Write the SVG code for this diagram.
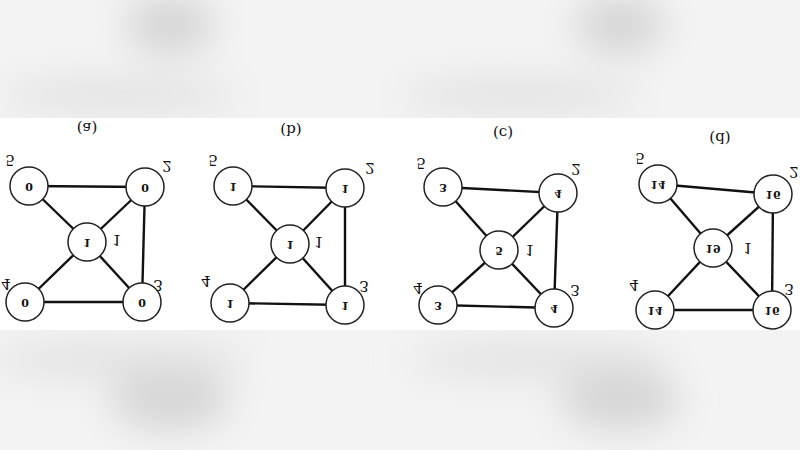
<svg xmlns="http://www.w3.org/2000/svg" width="800" height="450" viewBox="0 0 800 450">
<defs>
<filter id="bl" x="-50%" y="-50%" width="200%" height="200%"><feGaussianBlur stdDeviation="18"/></filter>
<style>
.n circle{fill:#fff;stroke:#222;stroke-width:1.5}
.e line{stroke:#111;stroke-width:2.4}
text{font-family:"DejaVu Serif","Liberation Serif",serif;fill:#111;text-anchor:middle;dominant-baseline:central}
.v{font-size:11px;font-weight:bold}
.l{font-size:15px}
.t{font-size:15px}
</style>
</defs>
<rect width="800" height="450" fill="#f3f3f3"/>
<g filter="url(#bl)" fill="#d6d6d6">
<ellipse cx="170" cy="25" rx="45" ry="30"/>
<ellipse cx="620" cy="25" rx="45" ry="30"/>
<ellipse cx="120" cy="95" rx="120" ry="15" fill="#e0e0e0"/>
<ellipse cx="520" cy="95" rx="120" ry="15" fill="#e0e0e0"/>
<ellipse cx="170" cy="400" rx="60" ry="30"/>
<ellipse cx="620" cy="400" rx="60" ry="30"/>
<ellipse cx="120" cy="360" rx="130" ry="18" fill="#e2e2e2"/>
<ellipse cx="540" cy="360" rx="130" ry="18" fill="#e2e2e2"/>
</g>
<rect x="0" y="118" width="800" height="212" fill="#fff"/>
<g id="connectors" class="e">
<line x1="29" y1="186" x2="145" y2="187"/><line x1="29" y1="186" x2="87" y2="242"/><line x1="145" y1="187" x2="87" y2="242"/><line x1="145" y1="187" x2="142" y2="302"/><line x1="87" y1="242" x2="25" y2="302"/><line x1="87" y1="242" x2="142" y2="302"/><line x1="25" y1="302" x2="142" y2="302"/>
<line x1="233" y1="186" x2="345" y2="188"/><line x1="233" y1="186" x2="290" y2="244"/><line x1="345" y1="188" x2="290" y2="244"/><line x1="345" y1="188" x2="345" y2="305"/><line x1="290" y1="244" x2="230" y2="303"/><line x1="290" y1="244" x2="345" y2="305"/><line x1="230" y1="303" x2="345" y2="305"/>
<line x1="443" y1="187" x2="558" y2="193"/><line x1="443" y1="187" x2="499" y2="250"/><line x1="558" y1="193" x2="499" y2="250"/><line x1="558" y1="193" x2="554" y2="308"/><line x1="499" y1="250" x2="438" y2="305"/><line x1="499" y1="250" x2="554" y2="308"/><line x1="438" y1="305" x2="554" y2="308"/>
<line x1="658" y1="184" x2="773" y2="194"/><line x1="658" y1="184" x2="713" y2="248"/><line x1="773" y1="194" x2="713" y2="248"/><line x1="773" y1="194" x2="772" y2="310"/><line x1="713" y1="248" x2="655" y2="310"/><line x1="713" y1="248" x2="772" y2="310"/><line x1="655" y1="310" x2="772" y2="310"/>
</g>
<g id="labels">
<text class="t" transform="translate(87,128) scale(1,-1)">(a)</text>
<text class="t" transform="translate(291,130) scale(1,-1)">(b)</text>
<text class="t" transform="translate(503,133) scale(1,-1)">(c)</text>
<text class="t" transform="translate(720,138) scale(1,-1)">(d)</text>
<text class="l" transform="translate(10,160) scale(1,-1)">5</text><text class="l" transform="translate(167,166) scale(1,-1)">2</text><text class="l" transform="translate(117,240) scale(1,-1)">1</text><text class="l" transform="translate(6,284) scale(1,-1)">4</text><text class="l" transform="translate(158,285) scale(1,-1)">3</text>
<text class="l" transform="translate(213,160) scale(1,-1)">5</text><text class="l" transform="translate(370,168) scale(1,-1)">2</text><text class="l" transform="translate(319,242) scale(1,-1)">1</text><text class="l" transform="translate(206,281) scale(1,-1)">4</text><text class="l" transform="translate(364,286) scale(1,-1)">3</text>
<text class="l" transform="translate(421,163) scale(1,-1)">5</text><text class="l" transform="translate(576,169) scale(1,-1)">2</text><text class="l" transform="translate(530,250) scale(1,-1)">1</text><text class="l" transform="translate(418,288) scale(1,-1)">4</text><text class="l" transform="translate(575,290) scale(1,-1)">3</text>
<text class="l" transform="translate(640,158) scale(1,-1)">5</text><text class="l" transform="translate(794,172) scale(1,-1)">2</text><text class="l" transform="translate(748,248) scale(1,-1)">1</text><text class="l" transform="translate(634,285) scale(1,-1)">4</text><text class="l" transform="translate(789,289) scale(1,-1)">3</text>
</g>
<g id="a" class="n">
<g id="a1"><circle cx="87" cy="242" r="19"/><text class="v" transform="translate(87,242) scale(1,-1)">1</text></g>
<g id="a2"><circle cx="145" cy="187" r="19"/><text class="v" transform="translate(145,187) scale(1,-1)">0</text></g>
<g id="a3"><circle cx="142" cy="302" r="19"/><text class="v" transform="translate(142,302) scale(1,-1)">0</text></g>
<g id="a4"><circle cx="25" cy="302" r="19"/><text class="v" transform="translate(25,302) scale(1,-1)">0</text></g>
<g id="a5"><circle cx="29" cy="186" r="19"/><text class="v" transform="translate(29,186) scale(1,-1)">0</text></g>
</g>
<g id="b" class="n">
<g id="b1"><circle cx="290" cy="244" r="19"/><text class="v" transform="translate(290,244) scale(1,-1)">1</text></g>
<g id="b2"><circle cx="345" cy="188" r="19"/><text class="v" transform="translate(345,188) scale(1,-1)">1</text></g>
<g id="b3"><circle cx="345" cy="305" r="19"/><text class="v" transform="translate(345,305) scale(1,-1)">1</text></g>
<g id="b4"><circle cx="230" cy="303" r="19"/><text class="v" transform="translate(230,303) scale(1,-1)">1</text></g>
<g id="b5"><circle cx="233" cy="186" r="19"/><text class="v" transform="translate(233,186) scale(1,-1)">1</text></g>
</g>
<g id="c" class="n">
<g id="c1"><circle cx="499" cy="250" r="19"/><text class="v" transform="translate(499,250) scale(1,-1)">5</text></g>
<g id="c2"><circle cx="558" cy="193" r="19"/><text class="v" transform="translate(558,193) scale(1,-1)">4</text></g>
<g id="c3"><circle cx="554" cy="308" r="19"/><text class="v" transform="translate(554,308) scale(1,-1)">4</text></g>
<g id="c4"><circle cx="438" cy="305" r="19"/><text class="v" transform="translate(438,305) scale(1,-1)">3</text></g>
<g id="c5"><circle cx="443" cy="187" r="19"/><text class="v" transform="translate(443,187) scale(1,-1)">3</text></g>
</g>
<g id="d" class="n">
<g id="d1"><circle cx="713" cy="248" r="19"/><text class="v" transform="translate(713,248) scale(1,-1)">19</text></g>
<g id="d2"><circle cx="773" cy="194" r="19"/><text class="v" transform="translate(773,194) scale(1,-1)">16</text></g>
<g id="d3"><circle cx="772" cy="310" r="19"/><text class="v" transform="translate(772,310) scale(1,-1)">16</text></g>
<g id="d4"><circle cx="655" cy="310" r="19"/><text class="v" transform="translate(655,310) scale(1,-1)">14</text></g>
<g id="d5"><circle cx="658" cy="184" r="19"/><text class="v" transform="translate(658,184) scale(1,-1)">14</text></g>
</g>
</svg>
